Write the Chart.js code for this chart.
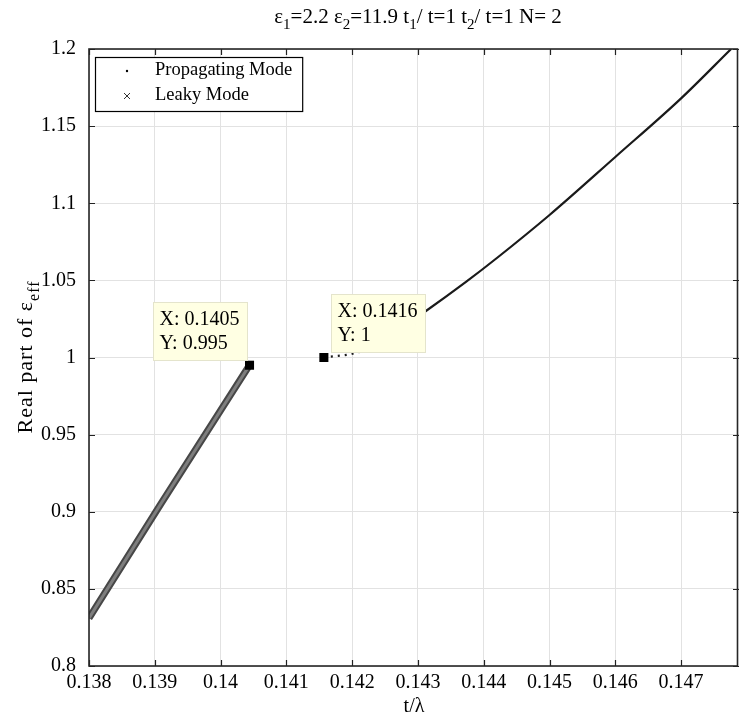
<!DOCTYPE html>
<html>
<head>
<meta charset="utf-8">
<script src="https://cdn.jsdelivr.net/npm/chart.js@4.4.1/dist/chart.umd.min.js"></script>
<style>
  html, body { margin: 0; padding: 0; background: #fff; overflow: hidden; }
  canvas { display: block; }
</style>
</head>
<body>
<canvas id="chart" width="739" height="719"></canvas>
<script>
// 数据
const leakyX = [0.138, 0.13909, 0.14044];
const leakyY = [0.831, 0.905, 0.995];

const propX = [0.14157, 0.1421, 0.1425, 0.1431, 0.14373, 0.1442, 0.145, 0.146, 0.147, 0.14776];
const propY = [1.0, 1.0035, 1.012, 1.0295, 1.049, 1.0645, 1.0924, 1.130, 1.168, 1.2];

const tipX = [0.14044, 0.14157];
const tipY = [0.995, 1.0];
const tipLabels = [['X: 0.1405', 'Y: 0.995'], ['X: 0.1416', 'Y: 1']];

const xTicks = [0.138, 0.139, 0.140, 0.141, 0.142, 0.143, 0.144, 0.145, 0.146, 0.147];
const xTickLabels = ['0.138', '0.139', '0.14', '0.141', '0.142', '0.143', '0.144', '0.145', '0.146', '0.147'];
const yTicks = [0.8, 0.85, 0.9, 0.95, 1.0, 1.05, 1.1, 1.15, 1.2];
const yTickLabels = ['0.8', '0.85', '0.9', '0.95', '1', '1.05', '1.1', '1.15', '1.2'];

const SERIF = "'Liberation Serif', 'Times New Roman', serif";

// 带下标的文字
function drawRich(ctx, parts, x, y, size, align, spacing) {
    const sub = Math.round(size * 0.72);
    ctx.letterSpacing = (spacing || 0) + 'px';
    let total = 0;
    parts.forEach(p => {
        ctx.font = (p.sub ? sub : size) + 'px ' + SERIF;
        total += ctx.measureText(p.t).width;
    });
    let cx = align === 'center' ? x - total / 2 : x;
    ctx.textBaseline = 'alphabetic';
    ctx.textAlign = 'left';
    parts.forEach(p => {
        ctx.font = (p.sub ? sub : size) + 'px ' + SERIF;
        ctx.fillText(p.t, cx, p.sub ? y + size * 0.3 : y);
        cx += ctx.measureText(p.t).width;
    });
    ctx.letterSpacing = '0px';
}

const decorPlugin = {
    id: 'decor',
    beforeDatasetsDraw(chart) {
        const { ctx, chartArea: a } = chart;
        ctx.save();
        // 内侧刻度线
        ctx.strokeStyle = '#222';
        ctx.lineWidth = 1.2;
        const xs = chart.scales.x, ys = chart.scales.y;
        xTicks.forEach(v => {
            const px = Math.round(xs.getPixelForValue(v)) + 0.5;
            ctx.beginPath();
            ctx.moveTo(px, a.bottom); ctx.lineTo(px, a.bottom - 6);
            ctx.moveTo(px, a.top); ctx.lineTo(px, a.top + 6);
            ctx.stroke();
        });
        yTicks.forEach(v => {
            const py = Math.round(ys.getPixelForValue(v)) + 0.5;
            ctx.beginPath();
            ctx.moveTo(a.left, py); ctx.lineTo(a.left + 6, py);
            ctx.moveTo(a.right, py); ctx.lineTo(a.right - 6, py);
            ctx.stroke();
        });
        ctx.restore();
    },
    afterDraw(chart) {
        const { ctx, chartArea: a } = chart;
        ctx.save();
        // 边框
        ctx.strokeStyle = '#262626';
        ctx.lineWidth = 1.6;
        ctx.strokeRect(a.left, a.top, a.right - a.left - 1.5, a.bottom - a.top);

        ctx.fillStyle = '#000';
        // 标题
        drawRich(ctx, [
            { t: 'ε' }, { t: '1', sub: true }, { t: '=2.2 ε' }, { t: '2', sub: true },
            { t: '=11.9 t' }, { t: '1', sub: true }, { t: '/ t=1 t' }, { t: '2', sub: true },
            { t: '/ t=1 N= 2' }
        ], 418, 23, 21, 'center');

        // y 轴标题
        ctx.save();
        ctx.translate(32, 357);
        ctx.rotate(-Math.PI / 2);
        drawRich(ctx, [{ t: 'Real part of ε' }, { t: 'eff', sub: true }], 0, 0, 22, 'center', 1);
        ctx.restore();

        // 图例
        const meta = chart.data.datasets;
        const lx = 95, ly = 57;
        ctx.font = '18.5px ' + SERIF;
        const tw = Math.max(ctx.measureText(meta[0].label).width, ctx.measureText(meta[2].label).width);
        ctx.fillStyle = '#fff';
        ctx.fillRect(lx, ly, tw + 70, 54);
        ctx.strokeStyle = '#000';
        ctx.lineWidth = 1.2;
        ctx.strokeRect(lx + 0.5, ly + 0.5, tw + 70, 54);
        ctx.fillStyle = '#000';
        ctx.textBaseline = 'middle';
        ctx.textAlign = 'left';
        ctx.fillText(meta[0].label, 155, 70);
        ctx.fillText(meta[2].label, 155, 95);
        ctx.beginPath();
        ctx.arc(127, 71, 1.2, 0, Math.PI * 2);
        ctx.fill();
        ctx.strokeStyle = '#333';
        ctx.lineWidth = 1;
        ctx.beginPath();
        ctx.moveTo(124, 93); ctx.lineTo(130, 99);
        ctx.moveTo(130, 93); ctx.lineTo(124, 99);
        ctx.stroke();

        // 数据提示框
        const xs = chart.scales.x, ys = chart.scales.y;
        const offs = [[-97, -63], [7, -64]];
        tipX.forEach((v, i) => {
            const px = xs.getPixelForValue(v), py = ys.getPixelForValue(tipY[i]);
            const bx = Math.round(px + offs[i][0]) + 0.5, by = Math.round(py + offs[i][1]) + 0.5;
            ctx.fillStyle = '#ffffe3';
            ctx.fillRect(bx, by, 94, 58);
            ctx.strokeStyle = '#e4e4cc';
            ctx.lineWidth = 1;
            ctx.strokeRect(bx, by, 94, 58);
            ctx.fillStyle = '#000';
            ctx.font = '20px ' + SERIF;
            ctx.textBaseline = 'middle';
            ctx.fillText(tipLabels[i][0], bx + 6, by + 17);
            ctx.fillText(tipLabels[i][1], bx + 6, by + 41);
        });
        ctx.restore();
    }
};

new Chart(document.getElementById('chart').getContext('2d'), {
    type: 'line',
    data: {
        datasets: [{
            label: 'Propagating Mode',
            data: propX.map((x, i) => ({ x: x, y: propY[i] })),
            borderColor: '#1a1a1a',
            borderWidth: 2.2,
            pointRadius: 0,
            cubicInterpolationMode: 'monotone',
            segment: {
                borderDash: c => c.p0DataIndex < 1 ? [2, 5] : undefined
            },
            order: 2
        }, {
            label: 'leaky-core',
            data: leakyX.map((x, i) => ({ x: x, y: leakyY[i] })),
            borderColor: '#7e7e7e',
            borderWidth: 3,
            pointRadius: 0,
            tension: 0,
            order: 3
        }, {
            label: 'Leaky Mode',
            data: leakyX.map((x, i) => ({ x: x, y: leakyY[i] })),
            borderColor: '#474747',
            borderWidth: 7,
            pointRadius: 0,
            tension: 0,
            order: 4
        }, {
            label: 'tips',
            data: tipX.map((x, i) => ({ x: x, y: tipY[i] })),
            showLine: false,
            pointStyle: 'rect',
            pointRadius: 6.4,
            backgroundColor: '#000',
            borderColor: '#000',
            borderWidth: 0,
            order: 1
        }]
    },
    options: {
        responsive: false,
        animation: false,
        layout: { autoPadding: false, padding: { top: 49, left: 0, right: 0, bottom: 0 } },
        plugins: {
            legend: { display: false },
            tooltip: { enabled: false }
        },
        scales: {
            x: {
                type: 'linear',
                min: 0.138,
                max: 0.14788,
                afterBuildTicks: s => { s.ticks = xTicks.map(v => ({ value: v })); },
                afterFit: s => { s.height = 53; s.paddingLeft = 0; s.paddingRight = 0; },
                grid: { color: '#e2e2e2', drawTicks: false },
                border: { display: false },
                ticks: {
                    color: '#000',
                    font: { family: SERIF, size: 20 },
                    padding: 5,
                    maxRotation: 0,
                    autoSkip: false,
                    callback: (v, i) => xTickLabels[i]
                },
                title: {
                    display: true,
                    text: 't/λ',
                    color: '#000',
                    font: { family: SERIF, size: 20 },
                    padding: { top: -5, bottom: 0 }
                }
            },
            y: {
                min: 0.8,
                max: 1.2,
                afterBuildTicks: s => { s.ticks = yTicks.map(v => ({ value: v })); },
                afterFit: s => { s.width = 89; s.paddingTop = 0; s.paddingBottom = 0; },
                grid: { color: '#e2e2e2', drawTicks: false },
                border: { display: false },
                ticks: {
                    color: '#000',
                    font: { family: SERIF, size: 20 },
                    padding: 13,
                    autoSkip: false,
                    callback: (v, i) => yTickLabels[i]
                }
            }
        }
    },
    plugins: [decorPlugin]
});
</script>
</body>
</html>
